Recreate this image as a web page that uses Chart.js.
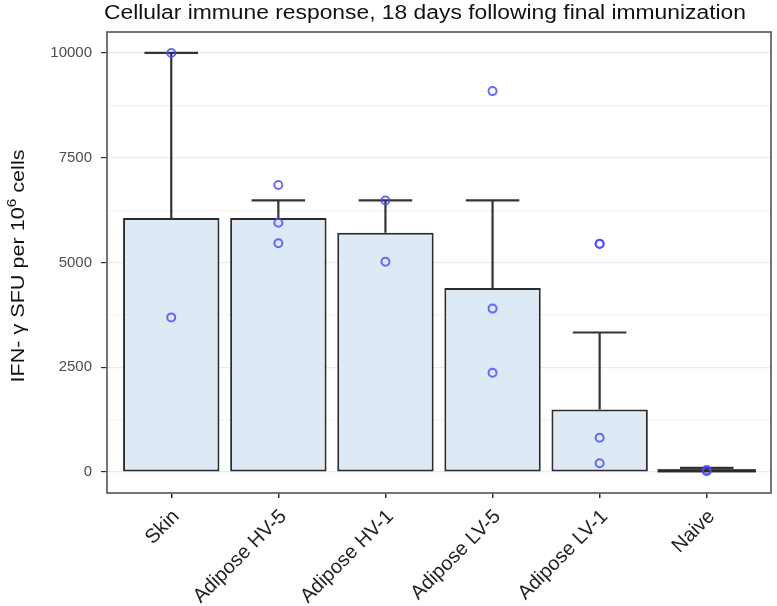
<!DOCTYPE html>
<html><head><meta charset="utf-8">
<script src="https://cdn.jsdelivr.net/npm/chart.js@4/dist/chart.umd.min.js"></script>
<style>html,body{margin:0;padding:0;background:#fff}#wrap{width:777px;height:606px}</style>
</head><body><div id="wrap"><canvas id="c" width="777" height="606"></canvas></div>
<script>
// ---- data ----
const categories = ['Skin', 'Adipose HV-5', 'Adipose HV-1', 'Adipose LV-5', 'Adipose LV-1', 'Naive'];
const meanValues = [6060, 6060, 5710, 4390, 1495, 45];
const errorTops = [10000, 6480, 6480, 6480, 3330, 100];
const skinPoints = [10000, 3690];
const hv5Points = [6850, 5950, 5460];
const hv1Points = [6480, 5020];
const lv5Points = [9090, 3900, 2370];
const lv1Points = [5450, 5440, 820, 210];
const naivePoints = [50, 20];
const yTicks = [0, 2500, 5000, 7500, 10000];
const yMinorTicks = [1250, 3750, 6250, 8750];
const titleText = 'Cellular immune response, 18 days following final immunization';

const pointGroups = [skinPoints, hv5Points, hv1Points, lv5Points, lv1Points, naivePoints];
const pointData = [];
pointGroups.forEach((arr, i) => arr.forEach(v => pointData.push({x: i, y: v})));
const barData = meanValues.map((v, i) => ({x: i, y: v}));

const FONT = "'Liberation Sans', Arial, Helvetica, sans-serif";

function fitText(ctx, text, x, y, target) {
  const w = ctx.measureText(text).width;
  ctx.save();
  ctx.translate(x, y);
  ctx.scale(target / w, 1);
  ctx.fillText(text, 0, 0);
  ctx.restore();
}

const decor = {
  id: 'decor',
  afterDatasetDraw(chart, args) {
    if (args.index !== 0) return;
    const ctx = chart.ctx, xs = chart.scales.x, ys = chart.scales.y;
    ctx.save();
    ctx.strokeStyle = '#2b2b2b';
    ctx.lineWidth = 2;
    // thin bars: Chart.js clamps their border, so outline them fully
    args.meta.data.forEach(el => {
      const p = el.getProps(['x', 'y', 'base', 'width'], true);
      if (Math.abs(p.base - p.y) < 6) {
        ctx.strokeRect(p.x - p.width / 2, Math.min(p.y, p.base), p.width, Math.abs(p.base - p.y));
      }
    });
    ctx.strokeStyle = '#333';
    ctx.lineWidth = 2.2;
    errorTops.forEach((top, i) => {
      const xc = xs.getPixelForValue(i);
      const x0 = xs.getPixelForValue(i - 0.25), x1 = xs.getPixelForValue(i + 0.25);
      const yt = ys.getPixelForValue(top), yb = ys.getPixelForValue(meanValues[i]);
      ctx.beginPath();
      ctx.moveTo(xc, yb); ctx.lineTo(xc, yt);
      ctx.moveTo(x0, yt); ctx.lineTo(x1, yt);
      ctx.stroke();
    });
    ctx.restore();
  },
  afterDraw(chart) {
    const ctx = chart.ctx, a = chart.chartArea;
    ctx.save();
    ctx.strokeStyle = '#666';
    ctx.lineWidth = 1.8;
    ctx.strokeRect(a.left, a.top, a.right - a.left, a.bottom - a.top);
    // title
    ctx.fillStyle = '#111';
    ctx.textBaseline = 'alphabetic';
    ctx.textAlign = 'left';
    ctx.font = '20px ' + FONT;
    fitText(ctx, titleText, 104, 19, 642);
    // y label with superscript
    const p1 = 'IFN- \u03B3 SFU per 10', sup = '6', p2 = ' cells';
    ctx.font = '18px ' + FONT;
    const w1 = ctx.measureText(p1).width, w2 = ctx.measureText(p2).width;
    ctx.font = '13px ' + FONT;
    const ws = ctx.measureText(sup).width;
    const total = w1 + ws + w2;
    const target = 233;
    ctx.translate(24, 266);
    ctx.rotate(-Math.PI / 2);
    ctx.scale(target / total, 1);
    let x = -total / 2;
    ctx.font = '18px ' + FONT;
    ctx.fillText(p1, x, 0); x += w1;
    ctx.font = '13px ' + FONT;
    ctx.fillText(sup, x, -8); x += ws;
    ctx.font = '18px ' + FONT;
    ctx.fillText(p2, x, 0);
    ctx.restore();
  }
};

new Chart(document.getElementById('c'), {
  type: 'bar',
  data: {
    datasets: [
      {
        type: 'bar',
        data: barData,
        backgroundColor: '#dde9f4',
        borderColor: '#2b2b2b',
        borderWidth: 2,
        borderSkipped: false,
        categoryPercentage: 1,
        barPercentage: 0.9,
        order: 1
      },
      {
        type: 'scatter',
        data: pointData,
        showLine: false,
        pointRadius: 4,
        pointBorderWidth: 2,
        pointBackgroundColor: 'rgba(0,0,0,0)',
        pointBorderColor: 'rgba(70,70,250,0.8)',
        order: 0
      }
    ]
  },
  options: {
    responsive: false,
    animation: false,
    devicePixelRatio: 1,
    layout: {padding: {top: 32, right: 4, left: 0, bottom: 0}},
    plugins: {legend: {display: false}, tooltip: {enabled: false}, title: {display: false}},
    scales: {
      x: {
        type: 'linear',
        min: -0.6, max: 5.6,
        offset: false,
        border: {display: false},
        grid: {offset: false, color: 'rgba(0,0,0,0)', tickColor: '#333', tickLength: 5, lineWidth: 1.5, drawOnChartArea: false},
        afterBuildTicks: s => { s.ticks = categories.map((c, i) => ({value: i})); },
        afterFit: s => { s.height = 113; },
        ticks: {
          callback: v => categories[v],
          autoSkip: false,
          minRotation: 45, maxRotation: 45,
          color: '#222',
          padding: 7,
          labelOffset: 5,
          font: {family: FONT, size: 20}
        }
      },
      y: {
        type: 'linear',
        min: -500, max: 10500,
        border: {display: false},
        grid: {
          color: ctx => (ctx.tick && yTicks.includes(ctx.tick.value)) ? '#ebebeb' : '#f3f3f3',
          tickColor: ctx => (ctx.tick && yTicks.includes(ctx.tick.value)) ? '#333' : 'rgba(0,0,0,0)',
          tickLength: 6,
          lineWidth: 1.2
        },
        afterBuildTicks: s => { s.ticks = [...yTicks, ...yMinorTicks].sort((a, b) => a - b).map(v => ({value: v})); },
        afterFit: s => { s.width = 107; },
        ticks: {
          callback: v => yTicks.includes(v) ? String(v) : '',
          color: '#4d4d4d',
          padding: 9,
          font: {family: FONT, size: 15}
        }
      }
    }
  },
  plugins: [decor]
});
</script></body></html>
